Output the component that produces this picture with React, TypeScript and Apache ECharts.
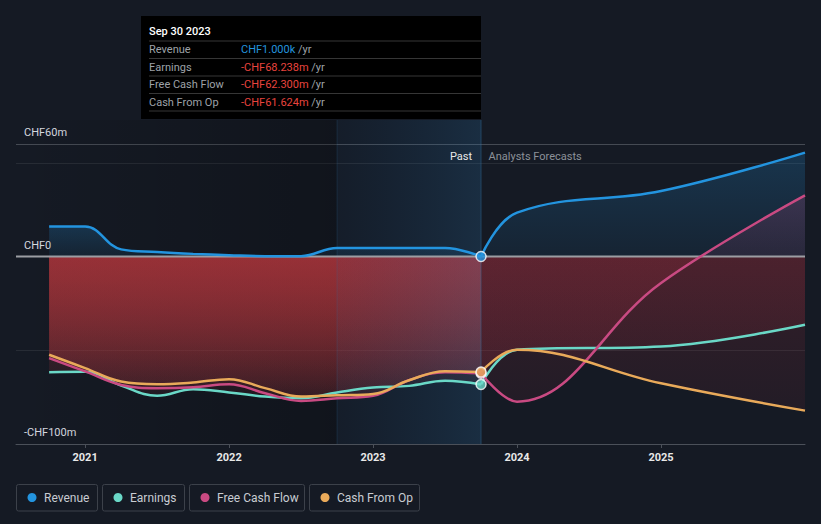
import React, { useEffect, useRef } from 'react';
import * as echarts from 'echarts';

// ---------- data ----------
const pastYears = [2020.75, 2021, 2021.25, 2021.5, 2021.75, 2022, 2022.25, 2022.5, 2022.75, 2023, 2023.25, 2023.5, 2023.75];
const forecastYears = [2023.75, 2024, 2025, 2026];

const revenuePast = [16, 16, 3.8, 2.4, 1.4, 0.7, 0.2, 0.2, 4.6, 4.6, 4.6, 4.6, 0.001];
const revenueForecast = [0.001, 23.4, 34.9, 55.4];
const earningsPast = [-61.7, -61.5, -68.8, -74.3, -70.8, -72.5, -74.7, -75.6, -72.5, -69.9, -69, -66.3, -68.238];
const earningsForecast = [-68.238, -49.7, -48, -36.4];
const fcfPast = [-54.2, -61.3, -68.5, -70.2, -69.7, -68.1, -72.9, -77, -75.6, -74.3, -66, -61.7, -62.3];
const fcfForecast = [-62.3, -77.4, -14.1, 32.6];
const cfoPast = [-52.4, -59.5, -66.7, -68.1, -67.2, -65.4, -70.2, -74.7, -74, -73.3, -66, -61.2, -61.624];
const cfoForecast = [-61.624, -49.7, -67.6, -82.2];

const seriesNames = ['Revenue', 'Earnings', 'Free Cash Flow', 'Cash From Op'];
const seriesColors = ['#2394df', '#6ad8c7', '#c94a82', '#e9aa5a'];
const yearTicks = [2021, 2022, 2023, 2024, 2025];
const yLabelValues = [-100, 0, 60];
const xMin = 2020.52;
const xMax = 2026.0;
const highlightStart = 2022.75;
const pastEnd = 2023.75;
const tooltipDate = 'Sep 30 2023';
const tooltipValues = ['CHF1.000k', '-CHF68.238m', '-CHF62.300m', '-CHF61.624m'];

const FONT = 'Roboto, "Noto Sans", sans-serif';

const pair = (xs: number[], ys: number[]) => xs.map((x, i) => [x, ys[i]]);

function areaGradient(values: number[], pos: [string, string], neg: [string, string]) {
  const top = Math.max(0, ...values);
  const bottom = Math.min(0, ...values);
  const z0 = top - bottom === 0 ? 0 : top / (top - bottom);
  const stops: any[] = [];
  if (z0 > 0) {
    stops.push({ offset: 0, color: pos[0] });
    stops.push({ offset: z0, color: pos[1] });
  }
  if (z0 < 1) {
    stops.push({ offset: z0, color: neg[0] });
    stops.push({ offset: 1, color: neg[1] });
  }
  return new echarts.graphic.LinearGradient(0, 0, 0, 1, stops);
}

function buildOption() {
  const metrics = [
    { past: revenuePast, fc: revenueForecast, pos: ['rgba(35,148,223,0.22)', 'rgba(35,148,223,0.08)'] },
    { past: earningsPast, fc: earningsForecast, pos: ['rgba(106,216,199,0.2)', 'rgba(106,216,199,0.08)'] },
    { past: fcfPast, fc: fcfForecast, pos: ['rgba(200,74,130,0.2)', 'rgba(200,74,130,0.1)'] },
    { past: cfoPast, fc: cfoForecast, pos: ['rgba(233,170,90,0.2)', 'rgba(233,170,90,0.08)'] },
  ];
  const pastNeg: [string, string] = ['rgba(170,52,58,0.5)', 'rgba(170,52,58,0.08)'];
  const fcNeg: [string, string] = ['rgba(160,45,60,0.22)', 'rgba(160,45,60,0.1)'];

  const series: any[] = [];
  metrics.forEach((m, i) => {
    const segs = [
      { xs: pastYears, ys: m.past, neg: pastNeg },
      { xs: forecastYears, ys: m.fc, neg: fcNeg },
    ];
    segs.forEach((s) => {
      series.push({
        type: 'line',
        name: seriesNames[i],
        data: pair(s.xs, s.ys),
        smooth: 0.4,
        symbol: 'none',
        silent: true,
        z: 2,
        lineStyle: { width: 0, opacity: 0 },
        areaStyle: { color: areaGradient(s.ys, m.pos as [string, string], s.neg), opacity: 1 },
      });
    });
  });
  metrics.forEach((m, i) => {
    [pair(pastYears, m.past), pair(forecastYears, m.fc)].forEach((d) => {
      series.push({
        type: 'line',
        name: seriesNames[i],
        data: d,
        smooth: 0.4,
        symbol: 'none',
        silent: true,
        z: 4,
        color: seriesColors[i],
        lineStyle: { width: 2.5, color: seriesColors[i] },
      });
    });
  });
  series.push({
    type: 'scatter',
    silent: true,
    z: 5,
    symbol: 'circle',
    symbolSize: 10,
    data: metrics.map((m, i) => ({
      value: [pastEnd, m.past[m.past.length - 1]],
      itemStyle: { color: seriesColors[i], borderColor: '#ffffff', borderWidth: 1.5 },
    })),
  });

  return {
    animation: false,
    backgroundColor: '#151a24',
    textStyle: { fontFamily: FONT },
    grid: { left: 16, right: 16, top: 144, bottom: 80 },
    xAxis: {
      type: 'value',
      min: xMin,
      max: xMax,
      axisLine: { show: true, onZero: false, lineStyle: { color: '#4b5059', width: 1 } },
      axisTick: { show: true, customValues: yearTicks, length: 4, lineStyle: { color: '#4b5059' } },
      axisLabel: {
        customValues: yearTicks,
        color: '#e8e8e8',
        fontSize: 11,
        fontWeight: 'bold',
        fontFamily: FONT,
        margin: 8,
        formatter: (v: number) => String(Math.round(v)),
      },
      splitLine: { show: false },
    },
    yAxis: {
      type: 'value',
      min: -100,
      max: 60,
      interval: 50,
      axisLine: { show: false },
      axisTick: { show: false },
      axisLabel: {
        customValues: yLabelValues,
        inside: true,
        margin: 8,
        verticalAlign: 'bottom',
        padding: [0, 0, 6, 0],
        color: '#d8dbe0',
        fontSize: 11,
        fontFamily: FONT,
        formatter: (v: number) => (v < 0 ? `-CHF${Math.abs(v)}m` : v === 0 ? 'CHF0' : `CHF${v}m`),
      },
      splitLine: {
        show: true,
        lineStyle: { color: ['#454a53', '#272c35', '#272c35', '#272c35', '#454a53'], width: 1 },
      },
    },
    series,
  };
}

export default function App() {
  const ref = useRef<HTMLDivElement>(null);
  useEffect(() => {
    document.body.style.margin = '0';
    const chart = echarts.init(ref.current!, null, { renderer: 'svg' });
    chart.setOption(buildOption());

    const px = (x: number, y: number) => chart.convertToPixel({ gridIndex: 0 }, [x, y]) as number[];
    const [xL, yTop] = px(xMin, 60);
    const [xR, yBottom] = px(xMax, -100);
    const [xH] = px(highlightStart, 0);
    const [xP, yZero] = px(pastEnd, 0);
    const topY = 120;

    const g: any[] = [];
    // darker past gradient
    g.push({
      type: 'rect',
      z: 1,
      silent: true,
      shape: { x: xL, y: topY, width: xH - xL, height: yBottom - topY },
      style: {
        fill: new echarts.graphic.LinearGradient(0, 0, 1, 0, [
          { offset: 0, color: 'rgba(0,0,0,0)' },
          { offset: 1, color: 'rgba(0,0,0,0.22)' },
        ]),
      },
    });
    // last-year highlight band
    g.push({
      type: 'rect',
      z: 3,
      silent: true,
      shape: { x: xH, y: topY, width: xP - xH, height: yBottom - topY },
      style: {
        fill: new echarts.graphic.LinearGradient(0, 0, 1, 0, [
          { offset: 0, color: 'rgba(20,90,150,0.05)' },
          { offset: 1, color: 'rgba(45,125,185,0.2)' },
        ]),
      },
    });
    g.push({
      type: 'line',
      z: 3,
      silent: true,
      shape: { x1: xH, y1: topY, x2: xH, y2: yBottom },
      style: { stroke: 'rgba(50,110,160,0.22)', lineWidth: 1 },
    });
    // zero line
    g.push({
      type: 'line',
      z: 3,
      silent: true,
      shape: { x1: xL, y1: yZero, x2: xR, y2: yZero },
      style: { stroke: '#9c9ea3', lineWidth: 2 },
    });
    // past / forecast divider
    g.push({
      type: 'line',
      z: 3,
      silent: true,
      shape: { x1: xP, y1: topY, x2: xP, y2: yBottom },
      style: { stroke: 'rgba(50,110,160,0.45)', lineWidth: 1 },
    });
    g.push({
      type: 'text',
      z: 6,
      x: xP - 9,
      y: yTop + 12,
      style: { text: 'Past', fill: '#e8e8e8', fontSize: 11, fontFamily: FONT, align: 'right', verticalAlign: 'middle' },
    });
    g.push({
      type: 'text',
      z: 6,
      x: xP + 7.5,
      y: yTop + 12,
      style: { text: 'Analysts Forecasts', fill: '#8c9199', fontSize: 11, fontFamily: FONT, align: 'left', verticalAlign: 'middle' },
    });

    // static tooltip box
    const tipX = 141;
    const tipY = 16;
    const tipW = 340;
    g.push({ type: 'rect', z: 10, shape: { x: tipX, y: tipY, width: tipW, height: 103 }, style: { fill: '#000000' } });
    g.push({
      type: 'text',
      z: 11,
      x: tipX + 8,
      y: 31,
      style: { text: tooltipDate, fill: '#ffffff', fontSize: 11, fontWeight: 500, fontFamily: FONT, verticalAlign: 'middle' },
    });
    const divStart = 41;
    const step = 17.5;
    for (let k = 0; k <= seriesNames.length; k++) {
      const yy = divStart + k * step;
      g.push({
        type: 'line',
        z: 11,
        shape: { x1: tipX + 8, y1: yy, x2: tipX + tipW, y2: yy },
        style: { stroke: '#363636', lineWidth: 1 },
      });
    }
    seriesNames.forEach((n, k) => {
      const yy = divStart + k * step + 8.5;
      g.push({
        type: 'text',
        z: 11,
        x: tipX + 8,
        y: yy,
        style: { text: n, fill: '#9ea2a8', fontSize: 11, fontFamily: FONT, verticalAlign: 'middle' },
      });
      const val = tooltipValues[k];
      const col = val.startsWith('-') ? '#e8443e' : seriesColors[0];
      g.push({
        type: 'text',
        z: 11,
        x: tipX + 100,
        y: yy,
        style: {
          text: `{v|${val}} {u|/yr}`,
          fontSize: 11,
          fontFamily: FONT,
          verticalAlign: 'middle',
          rich: {
            v: { fill: col, fontSize: 11, fontFamily: FONT },
            u: { fill: '#9ea2a8', fontSize: 11, fontFamily: FONT },
          },
        },
      });
    });

    // legend
    const boxWidths = [81, 82, 115, 110];
    let bx = 16;
    seriesNames.forEach((n, k) => {
      const w = boxWidths[k];
      g.push({
        type: 'rect',
        z: 10,
        shape: { x: bx + 0.5, y: 484.5, width: w, height: 26.5, r: 2 },
        style: { fill: 'none', stroke: '#3c414a', lineWidth: 1 },
      });
      g.push({ type: 'circle', z: 10, shape: { cx: bx + 16, cy: 497.5, r: 4.5 }, style: { fill: seriesColors[k] } });
      g.push({
        type: 'text',
        z: 10,
        x: bx + 28,
        y: 498,
        style: { text: n, fill: '#c8ccd2', fontSize: 12, fontFamily: FONT, verticalAlign: 'middle' },
      });
      bx += w + 5;
    });

    chart.setOption({ graphic: g });
    return () => chart.dispose();
  }, []);
  return <div ref={ref} style={{ width: 821, height: 524 }} />;
}
